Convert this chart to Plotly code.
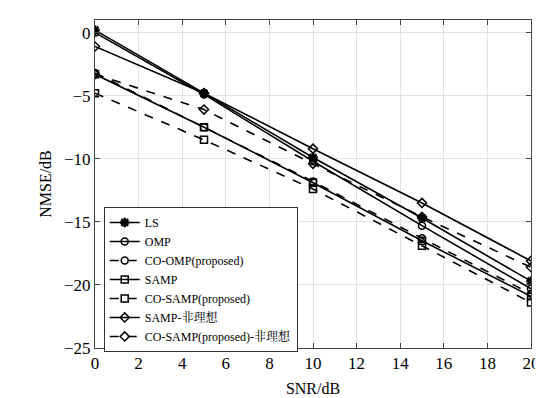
import plotly.graph_objects as go

snr = [0, 5, 10, 15, 20]
ls = [0.2, -4.8, -9.9, -14.7, -19.7]
omp = [0.0, -4.9, -10.2, -15.3, -20.3]
co_omp = [-3.2, -7.5, -11.8, -16.3, -20.7]
samp = [-3.3, -7.5, -11.9, -16.5, -20.9]
co_samp = [-4.8, -8.5, -12.4, -16.9, -21.4]
samp_nonideal = [-1.1, -4.8, -9.2, -13.5, -18.1]
co_samp_nonideal = [-3.3, -6.1, -10.4, -14.6, -18.6]

names = ["LS", "OMP", "CO-OMP(proposed)", "SAMP", "CO-SAMP(proposed)",
         "SAMP-非理想", "CO-SAMP(proposed)-非理想"]
series = [ls, omp, co_omp, samp, co_samp, samp_nonideal, co_samp_nonideal]
symbols = ["asterisk-open", "circle-open", "circle-open", "square-open",
           "square-open", "diamond-open", "diamond-open"]
dashes = ["solid", "solid", "dash", "solid", "dash", "solid", "dash"]

SERIF = '"Liberation Serif", "Times New Roman", "Noto Serif CJK SC", "Noto Sans CJK SC", serif'

fig = go.Figure()
for i, (n, s, sym, d) in enumerate(zip(names, series, symbols, dashes)):
    fig.add_trace(go.Scatter(
        x=snr, y=s, name=n, mode="lines+markers",
        line=dict(color="black", width=1.6, dash=d),
        marker=dict(symbol=sym, size=7 if i else 8, color="black",
                    line=dict(color="black", width=1.5 if i else 2.5)),
    ))

fig.update_layout(
    width=543, height=398,
    margin=dict(l=87, r=13, t=11, b=53),
    paper_bgcolor="white", plot_bgcolor="white",
    font=dict(family=SERIF, color="black", size=15),
    showlegend=True,
    legend=dict(x=0.02, y=0.43, xanchor="left", yanchor="top",
                bgcolor="white", bordercolor="#333", borderwidth=1,
                font=dict(size=12, family=SERIF),
                tracegroupgap=0, itemwidth=30),
)
fig.update_xaxes(range=[0, 20], dtick=2, tick0=0, showgrid=True, gridcolor="#e3e3e3",
                 ticks="inside", ticklen=5, tickcolor="#444", mirror="ticks",
                 showline=True, linecolor="#444", linewidth=1, zeroline=False,
                 title=dict(text="SNR/dB", font=dict(size=16), standoff=10),
                 tickfont=dict(size=17))
fig.update_yaxes(range=[-25, 1], tickvals=[0, -5, -10, -15, -20, -25],
                 showgrid=True, gridcolor="#e3e3e3",
                 ticks="inside", ticklen=5, tickcolor="#444", mirror="ticks",
                 showline=True, linecolor="#444", linewidth=1, zeroline=False,
                 title=dict(text="NMSE/dB", font=dict(size=16), standoff=8),
                 tickfont=dict(size=17))

fig.write_html("out.html")
